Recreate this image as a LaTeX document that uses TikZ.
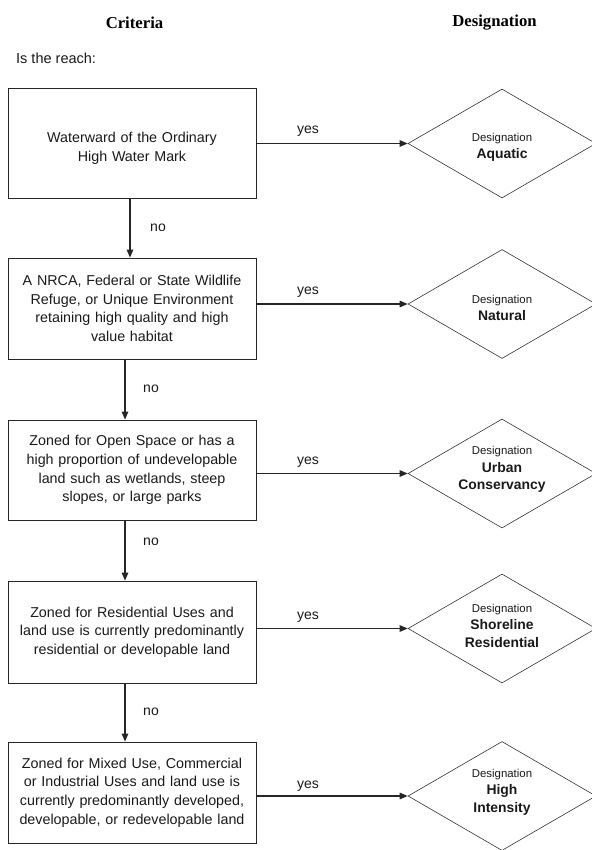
\documentclass[tikz,border=0pt]{standalone}
\usepackage{fontspec}
\setmainfont{Liberation Sans}
\newfontfamily\tnr{Liberation Serif}
\usetikzlibrary{shapes.geometric,arrows.meta}
\begin{document}
\begin{tikzpicture}[x=1pt,y=-1pt,
 box/.style={draw=black!85, line width=0.8pt, rectangle, minimum width=248pt, text width=244pt, align=center, inner sep=0pt, text=black!90, font=\fontsize{14.3}{18.7}\selectfont},
 dia/.style={draw=black!80, line width=0.6pt, diamond, minimum width=188pt, minimum height=109pt, inner sep=0pt},
 dtext/.style={align=center, inner sep=0pt, text=black!90, font=\fontsize{13.9}{17.5}\selectfont\bfseries},
 arr/.style={line width=1.3pt, draw=black!85, -{Triangle[length=8pt,width=6.5pt]}},
 lbl/.style={font=\fontsize{14}{16}\selectfont, inner sep=0pt, text=black!90},
 head/.style={font=\tnr\bfseries\fontsize{16.7}{19}\selectfont, inner sep=0pt}
]
\useasboundingbox (0,0) rectangle (591,850);
\newcommand\desig{{\mdseries\fontsize{11.4}{17.5}\selectfont Designation}}

\node[head] (hc) at (134.5,23) {Criteria};
\node[head] (hd) at (494.5,23) {Designation};
\node[lbl, anchor=west, font=\fontsize{14.5}{16}\selectfont] (q) at (16,58) {Is the reach:};

\node[box, minimum height=110pt] (b1) at (132,143) {\rule{0pt}{21pt}Waterward of the Ordinary\\High Water Mark};
\node[box, minimum height=101pt] (b2) at (132,308.5) {A NRCA, Federal or State Wildlife\\Refuge, or Unique Environment\\retaining high quality and high\\value habitat};
\node[box, minimum height=100pt] (b3) at (132,470) {Zoned for Open Space or has a\\high proportion of undevelopable\\land such as wetlands, steep\\slopes, or large parks};
\node[box, minimum height=102pt] (b4) at (132,632) {Zoned for Residential Uses and\\land use is currently predominantly\\residential or developable land};
\node[box, minimum height=101pt] (b5) at (132,792.5) {Zoned for Mixed Use, Commercial\\or Industrial Uses and land use is\\currently predominantly developed,\\developable, or redevelopable land};

\node[dia] (d1) at (502,143.5) {};
\node[dia] (d2) at (502,304) {};
\node[dia] (d3) at (502,473.5) {};
\node[dia] (d4) at (502,628.5) {};
\node[dia] (d5) at (502,796) {};

\node[dtext] (t1) at ([yshift=-4pt]d1.center) {\desig\\Aquatic};
\node[dtext] (t2) at ([yshift=-4pt]d2.center) {\desig\\Natural};
\node[dtext] (t3) at ([yshift=4pt]d3.center) {\desig\\Urban\\Conservancy};
\node[dtext] (t4) at ([yshift=3pt]d4.center) {\desig\\Shoreline\\Residential};
\node[dtext] (t5) at ([yshift=4pt]d5.center) {\desig\\High\\Intensity};

\foreach \i in {1,...,5}{
  \draw[arr] (b\i.east |- d\i.west) -- (d\i.west);
}
\node[lbl] (y1) at (308,131) {yes};
\node[lbl] (y2) at (308,292) {yes};
\node[lbl] (y3) at (308,462) {yes};
\node[lbl] (y4) at (308,617) {yes};
\node[lbl] (y5) at (308,786) {yes};

\draw[arr] ([xshift=-2pt]b1.south) -- ([xshift=-2pt]b1.south |- b2.north);
\draw[arr] ([xshift=-7pt]b2.south) -- ([xshift=-7pt]b2.south |- b3.north);
\draw[arr] ([xshift=-7pt]b3.south) -- ([xshift=-7pt]b3.south |- b4.north);
\draw[arr] ([xshift=-7pt]b4.south) -- ([xshift=-7pt]b4.south |- b5.north);
\node[lbl] (n1) at (158,228) {no};
\node[lbl] (n2) at (151,389) {no};
\node[lbl] (n3) at (151,542) {no};
\node[lbl] (n4) at (151,712) {no};
\end{tikzpicture}
\end{document}
